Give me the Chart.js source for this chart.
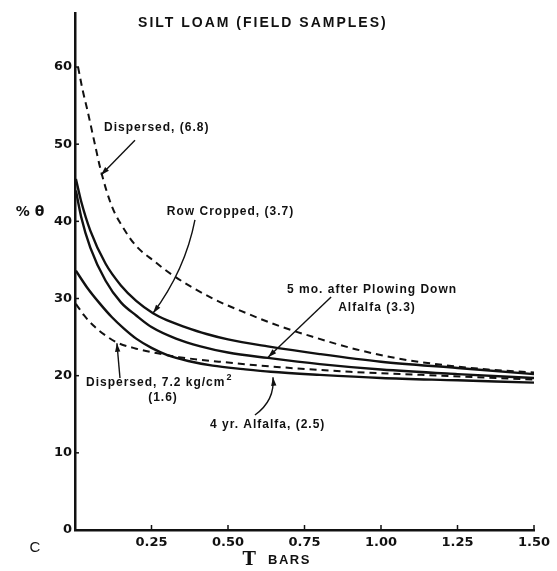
<!DOCTYPE html>
<html>
<head>
<meta charset="utf-8">
<script src="https://cdn.jsdelivr.net/npm/chart.js@4/dist/chart.umd.min.js"></script>
<style>
  html, body { margin: 0; padding: 0; background: #fff; }
  #wrap { width: 557px; height: 571px; position: relative; }
</style>
</head>
<body>
<div id="wrap"><canvas id="chart"></canvas></div>
<script>
// tension in bars (x) and % water content (y)
const dispersed68X = [0.01, 0.025, 0.04, 0.065, 0.085, 0.12, 0.16, 0.2, 0.26, 0.32, 0.45, 0.56, 0.67, 0.78, 0.92, 1.06, 1.2, 1.35, 1.5];
const dispersed68Y = [60, 57, 54.5, 50, 46.5, 42, 39, 36.8, 34.8, 33, 30, 28.1, 26.4, 25, 23.4, 22.2, 21.4, 20.8, 20.4];

const rowCroppedX = [0.003, 0.02, 0.05, 0.1, 0.15, 0.2, 0.255, 0.3, 0.36, 0.43, 0.5, 0.63, 0.8, 1.0, 1.25, 1.5];
const rowCroppedY = [45.5, 42.6, 38.8, 34.5, 31.7, 29.7, 28.1, 27.2, 26.3, 25.4, 24.7, 23.8, 22.8, 21.8, 21, 20.2];

const fiveMoX = [0.003, 0.02, 0.05, 0.1, 0.15, 0.2, 0.25, 0.33, 0.41, 0.5, 0.63, 0.8, 1.0, 1.25, 1.5];
const fiveMoY = [44, 40.6, 36.6, 32.3, 29.5, 27.8, 26.3, 24.8, 23.8, 23, 22.3, 21.5, 20.8, 20.2, 19.7];

const fourYrX = [0.003, 0.04, 0.08, 0.12, 0.16, 0.2, 0.25, 0.3, 0.37, 0.45, 0.55, 0.64, 0.8, 1.0, 1.25, 1.5];
const fourYrY = [33.6, 31.4, 29.4, 27.6, 26.1, 24.8, 23.6, 22.7, 21.9, 21.3, 20.85, 20.5, 20.1, 19.7, 19.4, 19.1];

const dispersed72X = [0.003, 0.03, 0.06, 0.1, 0.137, 0.2, 0.27, 0.34, 0.5, 0.67, 0.9, 1.2, 1.5];
const dispersed72Y = [29.3, 27.8, 26.5, 25.2, 24.3, 23.5, 22.9, 22.4, 21.7, 21.1, 20.5, 20, 19.5];

const xTicks = [0.25, 0.5, 0.75, 1.0, 1.25, 1.5];
const yTicks = [0, 10, 20, 30, 40, 50, 60];

const pts = (xs, ys) => xs.map((x, i) => ({ x: x, y: ys[i] }));

const INK = '#111';
const LBL = 'bold 12px "Liberation Sans", Arial, sans-serif';
const TICKFONT = { family: '"DejaVu Sans", sans-serif', size: 13, weight: 'bold' };

function line(data, dashed) {
  return {
    data: data,
    borderColor: INK,
    borderWidth: dashed ? 2 : 2.4,
    borderDash: dashed ? [7, 5] : [],
    pointRadius: 0,
    fill: false,
    cubicInterpolationMode: 'monotone'
  };
}

// labels, arrows, inward ticks and axis titles, placed in data units
const annotations = {
  id: 'annotations',
  afterDraw(chart) {
    const ctx = chart.ctx;
    const xs = chart.scales.x, ys = chart.scales.y;
    const px = v => xs.getPixelForValue(v);
    const py = v => ys.getPixelForValue(v);

    ctx.save();
    ctx.fillStyle = INK;
    ctx.strokeStyle = INK;

    // inward ticks
    ctx.lineWidth = 1.5;
    yTicks.forEach(v => {
      if (v === 0) return;
      ctx.beginPath(); ctx.moveTo(px(0), py(v)); ctx.lineTo(px(0) + 4, py(v)); ctx.stroke();
    });
    xTicks.forEach(v => {
      ctx.beginPath(); ctx.moveTo(px(v), py(0)); ctx.lineTo(px(v), py(0) - 5); ctx.stroke();
    });

    function text(str, x, y, font, align, spacing) {
      ctx.font = font || LBL;
      ctx.letterSpacing = (spacing === undefined ? 1 : spacing) + 'px';
      ctx.textAlign = align || 'left';
      ctx.textBaseline = 'middle';
      ctx.fillText(str, px(x), py(y));
      return ctx.measureText(str).width;
    }
    function arrow(points) {
      ctx.lineWidth = 1.4;
      ctx.beginPath();
      ctx.moveTo(px(points[0][0]), py(points[0][1]));
      if (points.length === 3) {
        ctx.quadraticCurveTo(px(points[1][0]), py(points[1][1]), px(points[2][0]), py(points[2][1]));
      } else {
        ctx.lineTo(px(points[1][0]), py(points[1][1]));
      }
      ctx.stroke();
      const n = points.length;
      const tx = px(points[n - 1][0]), ty = py(points[n - 1][1]);
      const fx = px(points[n - 2][0]), fy = py(points[n - 2][1]);
      const a = Math.atan2(ty - fy, tx - fx);
      ctx.beginPath();
      ctx.moveTo(tx, ty);
      ctx.lineTo(tx - 9 * Math.cos(a - 0.3), ty - 9 * Math.sin(a - 0.3));
      ctx.lineTo(tx - 9 * Math.cos(a + 0.3), ty - 9 * Math.sin(a + 0.3));
      ctx.closePath();
      ctx.fill();
    }

    text('SILT LOAM (FIELD SAMPLES)', 0.614, 65.7, 'bold 14px "Liberation Sans", Arial, sans-serif', 'center', 2);

    text('Dispersed, (6.8)', 0.095, 52.1);
    arrow([[0.196, 50.5], [0.085, 46.0]]);

    text('Row Cropped, (3.7)', 0.30, 41.2);
    arrow([[0.392, 40.2], [0.36, 33.7], [0.255, 28.1]]);

    text('5 mo. after Plowing Down', 0.693, 31.1);
    text('Alfalfa (3.3)', 0.86, 28.8);
    arrow([[0.837, 30.2], [0.631, 22.4]]);

    const w = text('Dispersed, 7.2 kg/cm', 0.036, 19.05);
    ctx.font = 'bold 9px "Liberation Sans", Arial, sans-serif';
    ctx.fillText('2', px(0.036) + w + 1, py(19.05) - 5);
    text('(1.6)', 0.239, 17.1);
    arrow([[0.147, 19.7], [0.137, 24.2]]);

    text('4 yr. Alfalfa, (2.5)', 0.441, 13.6);
    arrow([[0.588, 14.9], [0.654, 16.8], [0.647, 19.8]]);

    text('% \u03b8', -0.147, 41.1, 'bold 14px "DejaVu Sans", sans-serif', 'center', 0);
    text('C', -0.131, -2.33, '15px "Liberation Sans", Arial, sans-serif', 'center', 0);
    text('T', 0.569, -3.9, 'bold 18px "DejaVu Serif", serif', 'center', 0);
    text('BARS', 0.631, -3.9, 'bold 13px "Liberation Sans", Arial, sans-serif', 'left', 1.5);

    ctx.restore();
  }
};

new Chart(document.getElementById('chart'), {
  type: 'line',
  data: {
    datasets: [
      line(pts(dispersed68X, dispersed68Y), true),
      line(pts(rowCroppedX, rowCroppedY), false),
      line(pts(fiveMoX, fiveMoY), false),
      line(pts(fourYrX, fourYrY), false),
      line(pts(dispersed72X, dispersed72Y), true)
    ]
  },
  options: {
    responsive: true,
    maintainAspectRatio: false,
    animation: false,
    layout: { padding: { top: 13, right: 23, left: 0, bottom: 0 } },
    plugins: { legend: { display: false }, tooltip: { enabled: false } },
    scales: {
      x: {
        type: 'linear',
        min: 0,
        max: 1.5,
        afterFit: s => { s.height = 41; },
        afterBuildTicks: s => { s.ticks = xTicks.map(v => ({ value: v })); },
        grid: { display: false, drawTicks: false },
        border: { display: true, color: INK, width: 2.5 },
        ticks: {
          padding: 5,
          color: INK,
          font: TICKFONT,
          callback: v => v.toFixed(2)
        }
      },
      y: {
        min: 0,
        max: 67,
        afterFit: s => { s.width = 75; },
        afterBuildTicks: s => { s.ticks = yTicks.map(v => ({ value: v })); },
        grid: { display: false, drawTicks: false },
        border: { display: true, color: INK, width: 2.5 },
        ticks: {
          padding: 3,
          color: INK,
          font: TICKFONT
        }
      }
    }
  },
  plugins: [annotations]
});
</script>
</body>
</html>
